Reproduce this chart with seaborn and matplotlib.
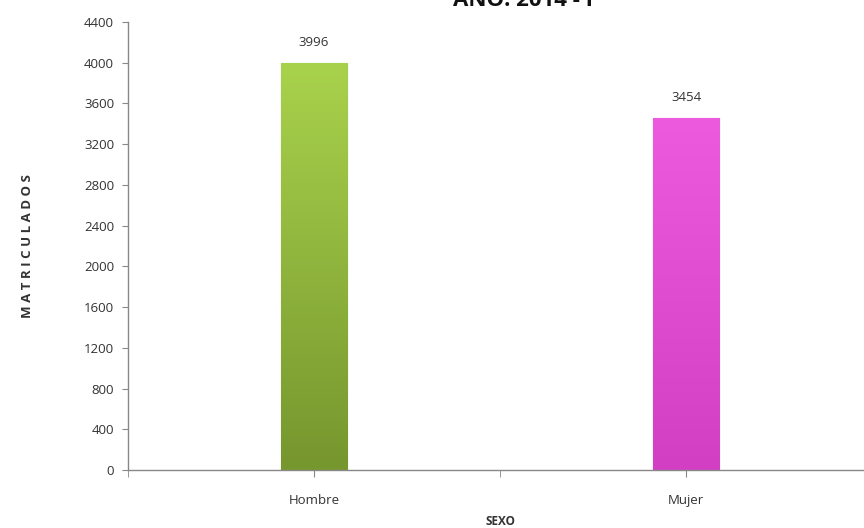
import matplotlib
matplotlib.use("Agg")
import matplotlib.pyplot as plt
import matplotlib.colors as mcolors
import seaborn as sns
import numpy as np
import pandas as pd

# datos
sexo = ["Hombre", "Mujer"]
matriculados = [3996, 3454]
color_arriba = ["#a9d24c", "#ee5ade"]
color_abajo = ["#76962e", "#d23fc3"]
borde = ["#6a8a28", "#b836aa"]
yticks = list(range(0, 4401, 400))

df = pd.DataFrame({"Sexo": sexo, "Matriculados": matriculados})

sns.set_style("white")
plt.rcParams['font.family'] = ['Open Sans', 'DejaVu Sans']

fig = plt.figure(figsize=(8.64, 5.28), dpi=100)
ax = fig.add_axes([128 / 864, 58 / 528, 744 / 864, 448 / 528])

sns.barplot(data=df, x="Sexo", y="Matriculados", hue="Sexo",
            palette=color_abajo, saturation=1, width=0.18, legend=False, ax=ax,
            linewidth=0)

ax.set_ylim(0, 4400)
ax.set_xlim(-0.5, 1.5)

# degradado vertical dentro de cada barra (efecto 3D de Excel)
grad = np.linspace(0, 1, 256).reshape(-1, 1)
for p, c1, c2, b in zip(ax.patches, color_arriba, color_abajo, borde):
    cmap = mcolors.LinearSegmentedColormap.from_list("g", [c2, c1])
    x0, w, h = p.get_x(), p.get_width(), p.get_height()
    im = ax.imshow(grad, cmap=cmap, aspect="auto", origin="lower",
                   extent=[x0, x0 + w, 0, h], zorder=p.get_zorder() + 0.1)
    im.set_clip_path(p)
    p.set_edgecolor(b)
    p.set_linewidth(0.8)
ax.set_xlim(-0.5, 1.5)
ax.set_ylim(0, 4400)

# etiquetas de valor
for p, v in zip(ax.patches, matriculados):
    ax.text(p.get_x() + p.get_width() / 2, v + 140, str(v),
            ha="center", va="bottom", fontsize=9.5, color="#333333")

ax.set_yticks(yticks)
ax.set_yticklabels([str(t) for t in yticks], fontsize=9.5, color="#333333")
ax.set_xticks([0, 1])
ax.set_xticklabels(sexo, fontsize=9.5, color="#333333")
ax.set_xticks([-0.5, 0.5, 1.5], minor=True)
ax.tick_params(axis="x", which="both", length=5, color="#888888",
               direction="out", bottom=True, pad=12)
ax.tick_params(axis="y", length=4, color="#888888", direction="out",
               left=True, pad=6)

for s in ["top", "right"]:
    ax.spines[s].set_visible(False)
for s in ["left", "bottom"]:
    ax.spines[s].set_color("#888888")
    ax.spines[s].set_linewidth(1.0)

ax.set_xlabel("SEXO", fontsize=8.5, fontweight="bold", color="#333333", labelpad=6)
ax.set_ylabel("M A T R I C U L A D O S", fontsize=9.5, fontweight="bold",
              color="#333333", labelpad=36)

# titulo cortado en la parte superior, como en la imagen original
fig.text(0.605, 1 - 6 / 528, "AÑO: 2014 - I", ha="center", va="baseline",
         fontsize=16, fontweight="bold", color="#111111")

fig.savefig("out.png", dpi=100)
